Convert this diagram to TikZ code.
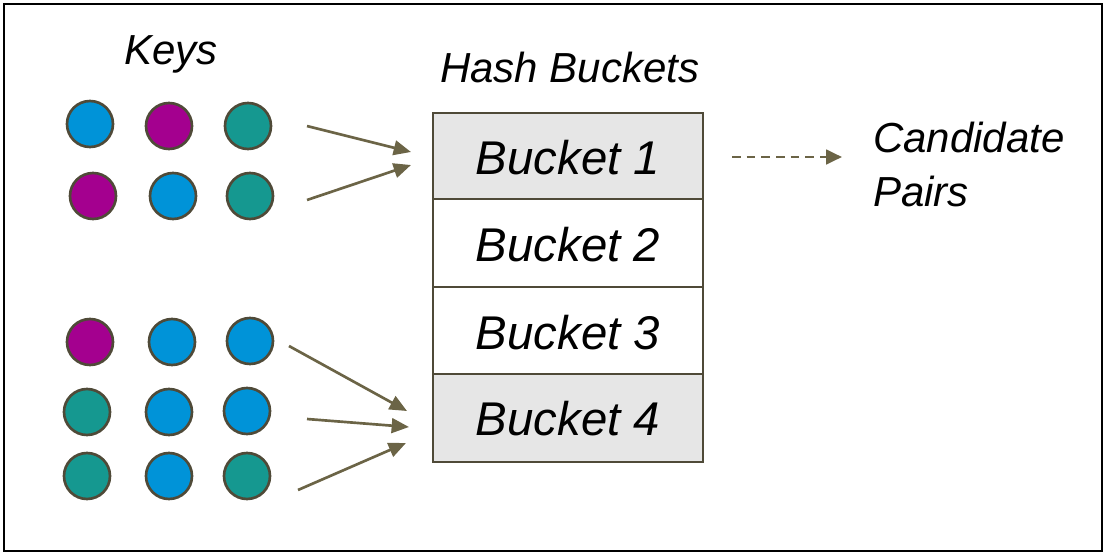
\documentclass[tikz,border=0pt]{standalone}
\usepackage{fontspec}
\setmainfont{Liberation Sans}
\usetikzlibrary{arrows.meta}
\definecolor{kblue}{RGB}{0,147,216}
\definecolor{kpurple}{RGB}{164,0,143}
\definecolor{kteal}{RGB}{21,152,144}
\definecolor{kedge}{RGB}{79,74,56}
\definecolor{karrow}{RGB}{107,100,70}
\definecolor{kgray}{RGB}{230,230,230}
\tikzset{
  key/.style={circle, draw=kedge, line width=2pt, minimum size=34.5pt, inner sep=0pt},
  kb/.style={key, fill=kblue},
  kp/.style={key, fill=kpurple},
  kt/.style={key, fill=kteal},
  bucketbox/.style={draw=kedge, line width=1.2pt, minimum width=202.5pt, inner sep=0pt},
  buckettext/.style={anchor=base, font=\fontsize{35.5}{42}\selectfont\itshape, inner sep=0pt},
  label/.style={anchor=base west, font=\fontsize{31.5}{36}\selectfont\itshape, inner sep=0pt},
  flow/.style={draw=karrow, line width=2pt, -{Triangle[length=13pt,width=11pt]}},
  dflow/.style={draw=karrow, line width=2.1pt, dash pattern=on 6.5pt off 4.5pt, -{Triangle[length=12pt,width=11pt]}},
}
\begin{document}
\begin{tikzpicture}[x=0.75pt,y=-0.75pt]
\useasboundingbox (0,0) rectangle (1106,554);
\draw[line width=2.2pt] (4,4) rectangle (1102,551);

% labels
\node[label] (keys) at (124,64) {Keys};
\node[label] (hb) at (440,82) {Hash Buckets};
\node[label] (cand) at (873,152) {Candidate};
\node[label] (pairs) at (873,206) {Pairs};

% key circles (top group)
\node[kb] (a1) at (90,124) {};
\node[kp] (a2) at (169,126) {};
\node[kt] (a3) at (248,126) {};
\node[kp] (b1) at (93,196) {};
\node[kb] (b2) at (173,196) {};
\node[kt] (b3) at (250,196) {};

% key circles (bottom group)
\node[kp] (c1) at (90,342) {};
\node[kb] (c2) at (172,342) {};
\node[kb] (c3) at (250,341) {};
\node[kt] (d1) at (87,412) {};
\node[kb] (d2) at (169,412) {};
\node[kb] (d3) at (247,411) {};
\node[kt] (e1) at (87,476) {};
\node[kb] (e2) at (169,476) {};
\node[kt] (e3) at (247,476) {};

% buckets
\node[bucketbox, fill=kgray, minimum height=64.5pt] (bk1) at (568,156) {};
\node[bucketbox, minimum height=66pt] (bk2) at (568,243) {};
\node[bucketbox, minimum height=65.25pt] (bk3) at (568,330.5) {};
\node[bucketbox, fill=kgray, minimum height=66pt] (bk4) at (568,418) {};
\node[buckettext] (t1) at (568,174) {Bucket 1};
\node[buckettext] (t2) at (568,261) {Bucket 2};
\node[buckettext] (t3) at (568,349) {Bucket 3};
\node[buckettext] (t4) at (568,435) {Bucket 4};

% arrow endpoints
\coordinate (s1) at (307,126);
\coordinate (s2) at (307,200);
\coordinate (e1a) at (411,152);
\coordinate (e2a) at (411,165);
\coordinate (s3) at (289,346);
\coordinate (s4) at (307,419);
\coordinate (s5) at (298,490);
\coordinate (e3a) at (407,411);
\coordinate (e4a) at (409,427);
\coordinate (e5a) at (406,443);
\coordinate (ds) at (732,157);
\coordinate (de) at (842,157);

\draw[flow] (s1) -- (e1a);
\draw[flow] (s2) -- (e2a);
\draw[flow] (s3) -- (e3a);
\draw[flow] (s4) -- (e4a);
\draw[flow] (s5) -- (e5a);
\draw[dflow] (ds) -- (de);
\end{tikzpicture}
\end{document}
